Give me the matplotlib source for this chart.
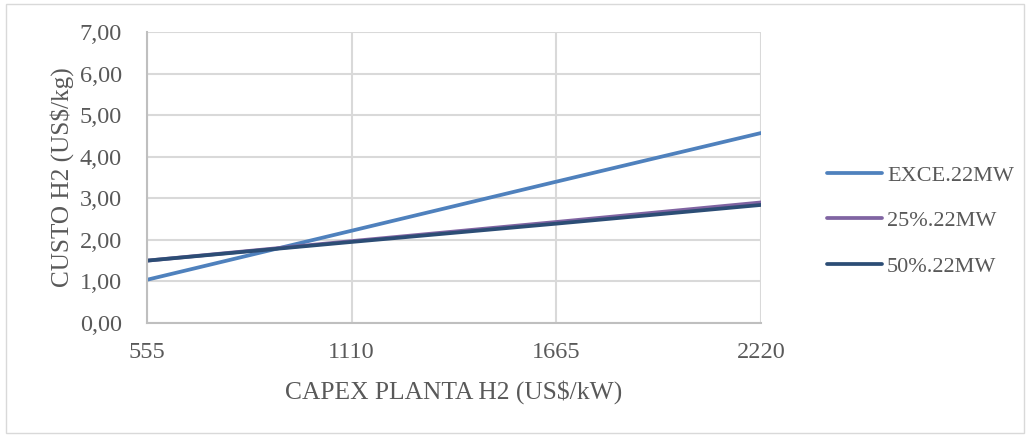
import matplotlib
matplotlib.use("Agg")
import matplotlib.pyplot as plt
from matplotlib.patches import Rectangle

capex = ["555", "1110", "1665", "2220"]
exce_22mw = [1.04, 2.22, 3.40, 4.57]
pct25_22mw = [1.50, 1.97, 2.43, 2.90]
pct50_22mw = [1.50, 1.95, 2.39, 2.84]

series_names = ["EXCE.22MW", "25%.22MW", "50%.22MW"]
series_colors = ["#4F81BD", "#8064A2", "#2C4D75"]
yticks = [0, 1, 2, 3, 4, 5, 6, 7]

plt.rcParams["font.family"] = ["Liberation Serif", "DejaVu Serif"]
text_color = "#595959"
grid_color = "#D9D9D9"

fig = plt.figure(figsize=(10.30, 4.36), dpi=100)
fig.patches.append(Rectangle((0.006, 0.008), 0.988, 0.982, transform=fig.transFigure,
                             fill=False, edgecolor="#D9D9D9", linewidth=1.0))

ax = fig.add_axes([147 / 1030, 1 - 323 / 436, (761 - 147) / 1030, (323 - 32) / 436])
x = list(range(len(capex)))
for vals, name, col in zip([exce_22mw, pct25_22mw, pct50_22mw], series_names, series_colors):
    ax.plot(x, vals, color=col, linewidth=2.7, label=name, solid_capstyle="round")

ax.set_xlim(0, len(capex) - 1)
ax.set_ylim(0, 7)
ax.set_xticks(x)
ax.set_xticklabels(capex)
ax.set_yticks(yticks)
ax.set_yticklabels([f"{v:.2f}".replace(".", ",") for v in yticks])
ax.grid(True, color=grid_color, linewidth=1.5)
ax.set_axisbelow(True)
for side in ["top", "right"]:
    ax.spines[side].set_visible(False)
for side in ["left", "bottom"]:
    ax.spines[side].set_color("#BFBFBF")
    ax.spines[side].set_linewidth(1.5)
ax.tick_params(axis="both", length=0, labelsize=17.5, colors=text_color)
ax.tick_params(axis="x", pad=14)
ax.tick_params(axis="y", pad=18)
ax.set_xlabel("CAPEX PLANTA H2 (US$/kW)", fontsize=18.4, color=text_color, labelpad=12)
ax.set_ylabel("CUSTO H2 (US$/kg)", fontsize=18.2, color=text_color, labelpad=4)

fig.legend(loc="center left", bbox_to_anchor=(827 / 1030, 1 - 221 / 436), frameon=False,
           borderaxespad=0, borderpad=0,
           fontsize=16, labelcolor=text_color, handlelength=2.48, handletextpad=0.22,
           labelspacing=1.13)

fig.savefig("out.png", dpi=100)
